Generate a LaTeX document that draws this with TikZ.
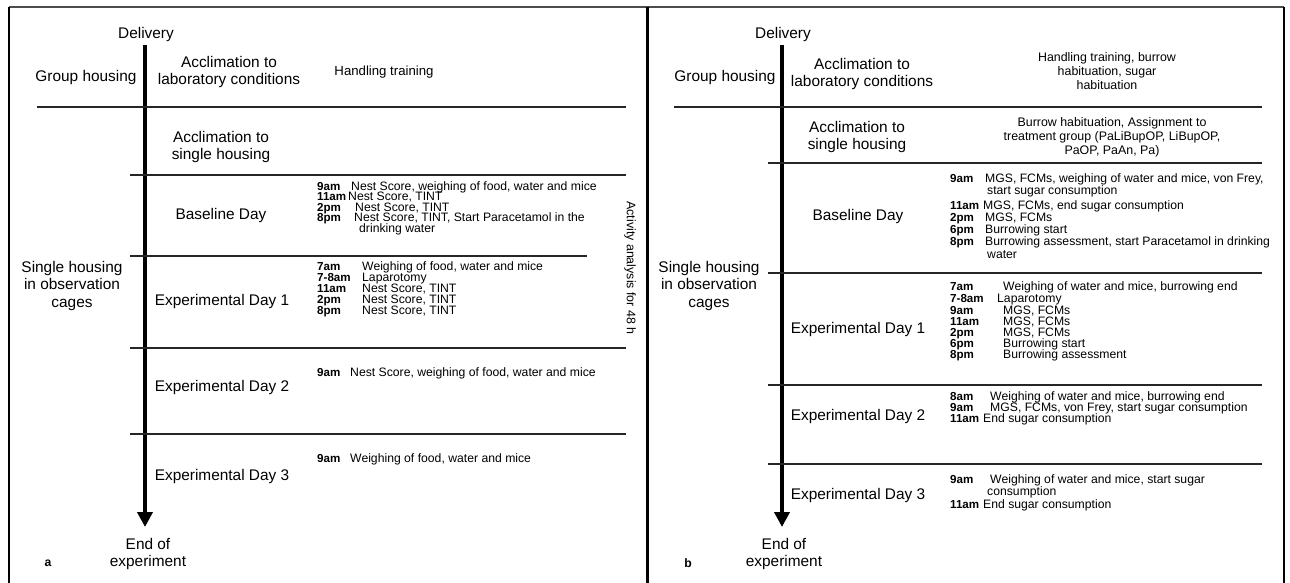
\documentclass[tikz,border=0pt]{standalone}
\usepackage{fontspec}
\setmainfont{Liberation Sans}
\usetikzlibrary{arrows.meta}
\tikzset{
  big/.style={font=\fontsize{15.4}{17.8}\selectfont, align=center, inner sep=0pt},
  note/.style={font=\fontsize{12.4}{14}\selectfont, align=center, inner sep=0pt},
  tm/.style={font=\fontsize{11.6}{12}\bfseries\selectfont, anchor=base west, inner sep=0pt},
  tx/.style={font=\fontsize{12.2}{12}\selectfont, anchor=base west, inner sep=0pt},
  sepline/.style={line width=1.5pt, draw=black!85},
  frameline/.style={line width=2.5pt},
  timeline/.style={line width=4.5pt, -{Triangle[width=15pt,length=15pt]}}
}
% #1 name, #2 x time, #3 x text, #4 y (visual centre), #5 time, #6 text
\newcommand\evrow[6]{%
  \node[tm] (#1t) at (#2,#4+4.4) {#5};
  \node[tx] (#1d) at (#3,#4+4.4) {#6};}
\newcommand\evcont[4]{\node[tx] (#1) at (#2,#3+4.4) {#4};}
\begin{document}
\begin{tikzpicture}[x=1pt,y=-1pt]
\useasboundingbox (0,0) rectangle (1290,583);
% frame
\draw[frameline, draw=black!70] (9,7) -- (1284,7);
\draw[frameline] (9,7) -- (9,590);
\draw[frameline] (1284,7) -- (1284,590);
\draw[line width=3pt] (647,7) -- (647,590);

%%%%%%%%%%%%%%%% panel a
\node[big] (aDel) at (146,35) {Delivery};
\coordinate (aS) at (145,45);
\coordinate (aE) at (145,527);
\draw[timeline] (aS) -- (aE);
\node[big] (aEnd) at (148,554) {End of\\experiment};
\node[font=\fontsize{12.2}{14}\bfseries\selectfont, inner sep=0pt] (aLbl) at (48,563) {a};

\node[big] (aGroup) at (86,78) {Group housing};
\node[big] (aAccLab) at (229,72) {Acclimation to\\laboratory conditions};
\node[note, font=\fontsize{13.2}{14}\selectfont] (aHand) at (384,72) {Handling training};
\draw[sepline] (37,107) -- (626,107);
\node[big] (aAccSgl) at (221,147) {Acclimation to\\single housing};
\draw[sepline] (130,175) -- (626,175);
\node[big] (aBase) at (221,216) {Baseline Day};
\evrow{aB1}{317}{351}{186}{9am}{Nest Score, weighing of food, water and mice}
\evrow{aB2}{317}{348}{196.5}{11am}{Nest Score, TINT}
\evrow{aB3}{317}{355}{207}{2pm}{Nest Score, TINT}
\evrow{aB4}{317}{354}{217.5}{8pm}{Nest Score, TINT, Start Paracetamol in the}
\evcont{aB5}{359}{228}{drinking water}
\draw[sepline] (130,256) -- (587,256);
\node[big] (aSingle) at (72,286) {Single housing\\in observation\\cages};
\node[big] (aExp1) at (222,302) {Experimental Day 1};
\evrow{aE1}{317}{362}{266}{7am}{Weighing of food, water and mice}
\evrow{aE2}{317}{362}{277}{7-8am}{Laparotomy}
\evrow{aE3}{317}{362}{288}{11am}{Nest Score, TINT}
\evrow{aE4}{317}{362}{299}{2pm}{Nest Score, TINT}
\evrow{aE5}{317}{362}{310}{8pm}{Nest Score, TINT}
\node[note, rotate=-90] (aAct) at (630,268) {Activity analysis for 48 h};
\draw[sepline] (130,348) -- (626,348);
\node[big] (aExp2) at (222,388) {Experimental Day 2};
\evrow{aD1}{317}{350}{372}{9am}{Nest Score, weighing of food, water and mice}
\draw[sepline] (130,434) -- (626,434);
\node[big] (aExp3) at (222,477) {Experimental Day 3};
\evrow{aF1}{317}{350}{458}{9am}{Weighing of food, water and mice}

%%%%%%%%%%%%%%%% panel b
\node[big] (bDel) at (783,35) {Delivery};
\coordinate (bS) at (782,45);
\coordinate (bE) at (782,527);
\draw[timeline] (bS) -- (bE);
\node[big] (bEnd) at (784,554) {End of\\experiment};
\node[font=\fontsize{12.2}{14}\bfseries\selectfont, inner sep=0pt] (bLbl) at (688,563) {b};

\node[big] (bGroup) at (725,78) {Group housing};
\node[big] (bAccLab) at (862,74) {Acclimation to\\laboratory conditions};
\node[note] (bHand) at (1107,71) {Handling training, burrow\\habituation, sugar\\habituation};
\draw[sepline] (674,107) -- (1262,107);
\node[big] (bAccSgl) at (857,137) {Acclimation to\\single housing};
\node[note] (bBurrow) at (1112,137) {Burrow habituation, Assignment to\\treatment group (PaLiBupOP, LiBupOP,\\PaOP, PaAn, Pa)};
\draw[sepline] (768,163) -- (1262,163);
\node[big] (bBase) at (858,217) {Baseline Day};
\evrow{bB1}{950}{985}{178}{9am}{MGS, FCMs, weighing of water and mice, von Frey,}
\evcont{bB1c}{987}{190.5}{start sugar consumption}
\evrow{bB2}{950}{983}{205}{11am}{MGS, FCMs, end sugar consumption}
\evrow{bB3}{950}{985}{217}{2pm}{MGS, FCMs}
\evrow{bB4}{950}{985}{229}{6pm}{Burrowing start}
\evrow{bB5}{950}{985}{241.5}{8pm}{Burrowing assessment, start Paracetamol in drinking}
\evcont{bB5c}{987}{254}{water}
\draw[sepline] (768,273) -- (1262,273);
\node[big] (bSingle) at (709,286) {Single housing\\in observation\\cages};
\node[big] (bExp1) at (858,330) {Experimental Day 1};
\evrow{bE1}{950}{1003}{286}{7am}{Weighing of water and mice, burrowing end}
\evrow{bE2}{950}{997}{298}{7-8am}{Laparotomy}
\evrow{bE3}{950}{1003}{310}{9am}{MGS, FCMs}
\evrow{bE4}{950}{1003}{321}{11am}{MGS, FCMs}
\evrow{bE5}{950}{1003}{332}{2pm}{MGS, FCMs}
\evrow{bE6}{950}{1003}{343}{6pm}{Burrowing start}
\evrow{bE7}{950}{1003}{354}{8pm}{Burrowing assessment}
\draw[sepline] (768,385) -- (1262,385);
\node[big] (bExp2) at (858,417) {Experimental Day 2};
\evrow{bD1}{950}{990}{396}{8am}{Weighing of water and mice, burrowing end}
\evrow{bD2}{950}{990}{407}{9am}{MGS, FCMs, von Frey, start sugar consumption}
\evrow{bD3}{950}{983}{418}{11am}{End sugar consumption}
\draw[sepline] (768,464) -- (1262,464);
\node[big] (bExp3) at (858,496) {Experimental Day 3};
\evrow{bF1}{950}{990}{479}{9am}{Weighing of water and mice, start sugar}
\evcont{bF1c}{987}{491}{consumption}
\evrow{bF2}{950}{983}{504}{11am}{End sugar consumption}
\end{tikzpicture}
\end{document}
